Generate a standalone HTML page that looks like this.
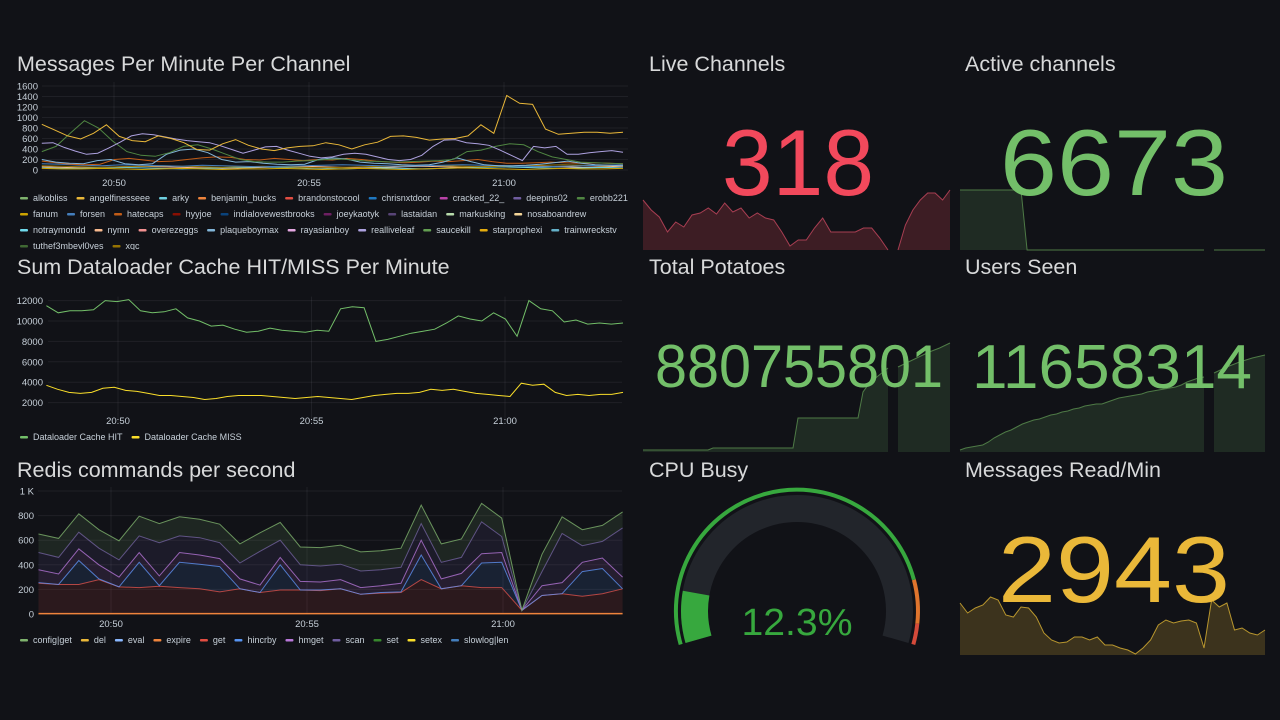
<!DOCTYPE html>
<html><head><meta charset="utf-8">
<style>
html,body{margin:0;padding:0;background:#111217;}
svg{display:block;font-family:"Liberation Sans",sans-serif;}
.title{fill:#d8d9da;font-size:21.5px;}
.tick{fill:#c7d0d9;font-size:9.5px;}
.leg{fill:#c7d0d9;font-size:9px;}
</style></head>
<body>
<svg id="dash" width="1280" height="720" viewBox="0 0 1280 720">
<rect width="1280" height="720" fill="#111217"/>
<defs>
<clipPath id="clipMsg"><rect x="0" y="40" width="640" height="210"/></clipPath>
</defs>
<text class="title" x="17" y="71">Messages Per Minute Per Channel</text>
<text class="title" x="17" y="274">Sum Dataloader Cache HIT/MISS Per Minute</text>
<text class="title" x="17" y="477">Redis commands per second</text>
<text class="title" x="649" y="71">Live Channels</text>
<text class="title" x="965" y="71">Active channels</text>
<text class="title" x="649" y="274">Total Potatoes</text>
<text class="title" x="965" y="274">Users Seen</text>
<text class="title" x="649" y="477">CPU Busy</text>
<text class="title" x="965" y="477">Messages Read/Min</text>
<g id="msgChart" clip-path="url(#clipMsg)"></g>
<g id="dlChart"></g>
<g id="redisChart"></g>
<g id="stats"></g>
</svg>
<script>
// ---------- data ----------
const timeTicks = ["20:50", "20:55", "21:00"];
const timeTickMinutes = [0, 5, 10];
const T0 = -1.85, T1 = 13.05;

const msgNames = ["alkobliss","angelfinesseee","arky","benjamin_bucks","brandonstocool","chrisnxtdoor","cracked_22_","deepins02","erobb221","fanum","forsen","hatecaps","hyyjoe","indialovewestbrooks","joeykaotyk","lastaidan","markusking","nosaboandrew","notraymondd","nymn","overezeggs","plaqueboymax","rayasianboy","realliveleaf","saucekill","starprophexi","trainwreckstv","tuthef3mbevl0ves","xqc"];
const msgColors = ["#7EB26D","#EAB839","#6ED0E0","#EF843C","#E24D42","#1F78C1","#BA43A9","#705DA0","#508642","#CCA300","#447EBC","#C15C17","#890F02","#0A437C","#6D1F62","#584477","#B7DBAB","#F4D598","#70DBED","#F9BA8F","#F29191","#82B5D8","#E5A8E2","#AEA2E0","#629E51","#E5AC0E","#64B0C8","#3F6833","#967302"];
const msgYTicks = [0,200,400,600,800,1000,1200,1400,1600];
const angelfinesseee = [870,760,650,590,700,860,640,560,540,650,600,520,390,380,500,580,470,400,370,420,450,460,520,480,400,480,530,640,650,620,570,590,600,650,860,700,1420,1270,1250,780,680,700,720,720,700,720];
const realliveleaf = [510,520,430,360,300,320,420,530,650,690,670,630,590,560,540,520,460,390,320,380,440,450,380,320,260,230,250,300,320,300,250,200,180,200,280,450,570,580,520,500,470,380,280,180,450,420,450,300,300,330,350,370,340];
const erobb221 = [350,450,700,940,800,550,350,280,260,330,450,480,400,300,200,160,150,150,170,180,200,210,190,170,160,150,160,170,180,200,350,380,450,500,480,350,250,200,150,140,130,120];
const plaqueboymax = [200,150,130,120,180,200,120,100,120,300,380,400,330,200,150,160,130,110,100,110,200,230,210,150,130,120,100,90,100,150,230,160,100,80,80,90,110,140,170,130,100,90,80];
const hatecaps = [170,140,110,100,110,200,220,190,160,170,200,230,250,240,200,190,220,200,180,200,190,220,200,170,150,140,150,170,160,180,200,160,130,130,140,150,140,130,140,130,120];
const forsen = [120,110,90,80,100,90,80,70,90,80,70,60,70,80,90,100,90,80,70,80,90,100,90,80,70,60,70,80,90,100];
const nymn = [60,50,40,50,60,70,60,50,40,30,40,50,60,70,60,50,40,50,60,70,60,50,60,70,80,70,60,50,60,70];
const arky = [40,30,30,40,50,40,30,20,30,40,50,60,50,40,30,20,30,40,30,20,30,40,50,60,50,40,30,40,50,40];
const xqc = [80,70,60,50,60,70,80,70,60,50,60,70,60,50,40,50,60,70,80,90,80,70,60,70,80,90,100,90,80,90];
const fanum = [30,20,20,30,20,10,20,30,20,10,20,20,30,20,10,20,30,20,10,20,30,40,30,20,10,20,30,20,20,30];
const msgSeries = [
  ["nymn", nymn], ["arky", arky], ["fanum", fanum], ["xqc", xqc], ["forsen", forsen],
  ["hatecaps", hatecaps], ["plaqueboymax", plaqueboymax], ["erobb221", erobb221],
  ["realliveleaf", realliveleaf], ["angelfinesseee", angelfinesseee]
];

const dlYTicks = [2000,4000,6000,8000,10000,12000];
const dlHit = [11500,10800,11000,11000,11100,12000,11900,12100,11000,10800,10900,11200,10300,10000,9500,9600,9200,8900,9000,9300,9100,9000,8900,9100,9000,11200,11400,11300,8000,8200,8500,8800,9000,9200,9800,10500,10200,10000,10800,10200,8500,12000,11200,11000,9900,10100,9700,9800,9700,9800];
const dlMiss = [3700,3300,3000,2900,3000,3400,3500,3200,3100,2900,2700,2700,2600,2500,2300,2400,2600,2700,2700,2700,2600,2500,2400,2500,2600,2500,2400,2300,2500,2700,2800,2900,2900,3000,3300,3200,3300,3100,2900,2800,2700,2600,3900,3700,3800,3000,2700,2800,2700,2800,2800,3000];

const redisYTicks = [0,200,400,600,800,1000];
const redisYLabels = ["0","200","400","600","800","1 K"];
const redisGet = [250,240,240,280,220,215,225,215,205,180,205,175,195,195,190,205,160,170,175,280,205,230,215,215,30,150,165,145,165,205];
const redisHincrby = [5,0,195,5,0,205,5,205,200,205,0,0,205,0,5,0,0,5,5,200,0,0,200,205,0,0,0,200,205,0];
const redisHmget = [105,85,95,115,80,80,80,80,75,65,80,60,60,70,65,75,55,55,70,120,80,100,75,80,0,80,90,75,85,95];
const redisScan = [140,135,135,135,140,135,270,135,140,130,130,275,140,135,130,125,135,130,130,135,135,130,260,130,0,115,400,135,135,400];
const redisConfigGet = [150,155,150,150,155,160,155,155,150,150,155,150,145,145,150,155,155,155,155,150,150,150,150,150,0,140,135,130,130,130];
const redisExpire = [3,3,3,3,3,3,3,3,3,3,3,3,3,3,3,3,3,3,3,3,3,3,3,3,3,3,3,3,3,3];
const redisNames = ["config|get","del","eval","expire","get","hincrby","hmget","scan","set","setex","slowlog|len"];
const redisColors = ["#7EB26D","#EAB839","#8AB8FF","#EF843C","#E24D42","#5794F2","#B877D9","#705DA0","#37872D","#FADE2A","#447EBC"];

const liveA = [50,40,33,18,28,23,35,37,42,36,47,38,42,32,37,32,30,18,4,10,10,22,32,18,18,18,18,22,22,12,0];
const liveB = [0,25,40,50,57,57,50,60];
const activeA = [60,60,60,60,60,60,60,60,60,60,60,0,0,0,0,0,0,0,0,0,0,0,0,0,0,0,0,0,0,0,0,0,0,0,0,0,0,0,0,0,0];
const activeB = [0,0,0,0,0];
const potatoA = [2,2,2,2,2,2,2,2,2,2,2,2,2,2,4,4,4,4,4,4,4,4,4,4,4,4,4,4,4,4,4,34,34,34,34,34,34,34,34,34,34,34,34,34,60,67,72,76,80,84];
const potatoB = [85,90,95,100,104,109];
const usersA = [2,4,5,6,7,10,14,17,20,22,25,28,30,32,33,35,37,38,40,41,43,44,46,47,48,48,50,52,54,55,56,57,58,60,61,62,63,64,65,67,70,72,74,75];
const usersB = [79,85,90,94,97];
const readVals = [52,42,47,50,58,55,40,38,48,47,38,22,15,12,13,18,18,15,18,10,10,7,5,1,7,15,30,35,32,34,35,32,7,55,48,52,25,27,22,20,25];
const cpuValue = 12.3;
const cpuThresholds = [0, 85.4, 95.3];
const cpuThresholdColors = ["#37A83E","#E0752D","#D44A3A"];

// ---------- helpers ----------
const NS = "http://www.w3.org/2000/svg";
function mk(tag, attrs, parent) {
  const el = document.createElementNS(NS, tag);
  for (const k in attrs) el.setAttribute(k, attrs[k]);
  if (parent) parent.appendChild(el);
  return el;
}
function timeAxis(x20_50, pxPerMin) { return t => x20_50 + t * pxPerMin; }
function linAxis(y0, pxPerUnit) { return v => y0 - v * pxPerUnit; }
function seriesPts(vals, xs, ys) {
  return vals.map((v, i) => [xs(T0 + (T1 - T0) * i / (vals.length - 1)), ys(v)]);
}
function ptsStr(p) { return p.map(q => q[0].toFixed(1) + "," + q[1].toFixed(1)).join(" "); }

function drawAxes(g, xs, ys, yTicks, yLabels, left, right, labelX, tickY) {
  yTicks.forEach((v, i) => {
    const gl = mk("line", {x1:left, x2:right, y1:ys(v), y2:ys(v), stroke:"rgba(204,204,220,0.08)", "stroke-width":1}, g);
    
    
    const t = mk("text", {x:labelX, y:ys(v) + 3.5, "text-anchor":"end", class:"tick"}, g);
    t.textContent = yLabels ? yLabels[i] : String(v);
    
    
  });
  timeTickMinutes.forEach((m, i) => {
    const gl = mk("line", {x1:xs(m), x2:xs(m), y1:ys(yTicks[yTicks.length-1]) - 4, y2:ys(0), stroke:"rgba(204,204,220,0.08)", "stroke-width":1}, g);
    
    
    const t = mk("text", {x:xs(m), y:tickY, "text-anchor":"middle", class:"tick"}, g);
    t.textContent = timeTicks[i];
    
    
  });
}
function drawLegend(g, names, colors, x0, y0, maxX, rowH) {
  let x = x0, y = y0;
  names.forEach((n, i) => {
    const item = mk("g", {}, g);
    
    
    const sw = mk("rect", {x:x, y:y - 4, width:8, height:2.5, rx:1, fill:colors[i]}, item);
    
    
    const t = mk("text", {x:x + 13, y:y, class:"leg"}, item);
    t.textContent = n;
    
    
    let w = 40;
    try { w = t.getComputedTextLength(); } catch (e) {}
    let nx = x + 13 + w + 9;
    if (x + 13 + w > maxX && x > x0) {
      x = x0; y += rowH;
      sw.setAttribute("x", x); sw.setAttribute("y", y - 4);
      t.setAttribute("x", x + 13); t.setAttribute("y", y);
      nx = x + 13 + w + 9;
    }
    x = nx;
  });
}

// ---------- messages chart ----------
(function(){
  const g = document.getElementById("msgChart");
  const xs = timeAxis(114, 39), ys = linAxis(170, 84/1600);
  drawAxes(g, xs, ys, msgYTicks, null, 42, 628, 38, 186);
  msgSeries.forEach(([name, vals]) => {
    const c = msgColors[msgNames.indexOf(name)];
    const p = mk("polyline", {points:ptsStr(seriesPts(vals, xs, ys)), fill:"none", stroke:c, "stroke-width":1}, g);
    
    
  });
  drawLegend(g, msgNames, msgColors, 20, 201, 630, 16);
})();

// ---------- dataloader chart ----------
(function(){
  const g = document.getElementById("dlChart");
  const xs = timeAxis(118, 38.7), ys = linAxis(423, 20.4/2000);
  drawAxes(g, xs, ys, dlYTicks, null, 48, 622, 43, 424);
  [[dlMiss, "#FADE2A", "miss"], [dlHit, "#73BF69", "hit"]].forEach(([vals, c, n]) => {
    const pts = seriesPts(vals, xs, ys);
    const p = mk("polyline", {points:ptsStr(pts), fill:"none", stroke:c, "stroke-width":1}, g);
    
    
  });
  drawLegend(g, ["Dataloader Cache HIT","Dataloader Cache MISS"], ["#73BF69","#FADE2A"], 20, 440, 628, 16);
})();

// ---------- redis chart ----------
(function(){
  const g = document.getElementById("redisChart");
  const xs = timeAxis(111, 39.2), ys = linAxis(614, 123/1000);
  drawAxes(g, xs, ys, redisYTicks, redisYLabels, 38, 622, 34, 627);
  const layers = [["get", redisGet], ["hincrby", redisHincrby], ["hmget", redisHmget], ["scan", redisScan], ["config|get", redisConfigGet]];
  let base = redisGet.map(() => 0);
  layers.forEach(([name, vals]) => {
    const c = redisColors[redisNames.indexOf(name)];
    const top = vals.map((v, i) => base[i] + v);
    const tp = seriesPts(top, xs, ys), bp = seriesPts(base, xs, ys).reverse();
    const a = mk("polygon", {points:ptsStr(tp) + " " + ptsStr(bp), fill:c, "fill-opacity":0.13}, g);
    
    
    const p = mk("polyline", {points:ptsStr(tp), fill:"none", stroke:c, "stroke-width":1, "stroke-opacity":0.8}, g);
    
    
    base = top;
  });
  const e = mk("polyline", {points:ptsStr(seriesPts(redisExpire, xs, ys)), fill:"none", stroke:"#EF843C", "stroke-width":1.5}, g);
  
  
  drawLegend(g, redisNames, redisColors, 20, 643, 628, 16);
})();

// ---------- stat panels ----------
const stats = document.getElementById("stats");
function spark(vals, x0, x1, bottom, scale, stroke, fill, name) {
  const pts = vals.map((v, i) => [x0 + (x1 - x0) * i / (vals.length - 1), bottom - v * scale]);
  const a = mk("polygon", {points:ptsStr(pts) + ` ${x1},${bottom} ${x0},${bottom}`, fill:fill}, stats);
  
  
  const p = mk("polyline", {points:ptsStr(pts), fill:"none", stroke:stroke, "stroke-width":1}, stats);
  
  
}
function bigNum(txt, cx, baseline, size, width, color, name) {
  const t = mk("text", {x:cx, y:baseline, "text-anchor":"middle", "font-size":size, fill:color, textLength:width, lengthAdjust:"spacingAndGlyphs"}, stats);
  t.textContent = txt;
  
  
}
spark(liveA, 643, 888, 250, 1, "#A83E52", "rgba(242,73,92,0.2)", "live-channels");
spark(liveB, 898, 950, 250, 1, "#A83E52", "rgba(242,73,92,0.2)", "live-channels-recent");
bigNum("318", 798, 195, 94, 152, "#F2495C", "live-channels-value");
spark(activeA, 960, 1204, 250, 1, "#4E7A46", "rgba(115,191,105,0.15)", "active-channels");
spark(activeB, 1214, 1265, 250, 1, "#4E7A46", "rgba(115,191,105,0.15)", "active-channels-recent");
bigNum("6673", 1114, 195, 94, 228, "#73BF69", "active-channels-value");
spark(potatoA, 643, 888, 452, 1, "#4E7A46", "rgba(115,191,105,0.15)", "total-potatoes");
spark(potatoB, 898, 950, 452, 1, "#4E7A46", "rgba(115,191,105,0.15)", "total-potatoes-recent");
bigNum("880755801", 799, 387, 60, 288, "#73BF69", "total-potatoes-value");
spark(usersA, 960, 1204, 452, 1, "#4E7A46", "rgba(115,191,105,0.15)", "users-seen");
spark(usersB, 1214, 1265, 452, 1, "#4E7A46", "rgba(115,191,105,0.15)", "users-seen-recent");
bigNum("11658314", 1112, 388, 62, 280, "#73BF69", "users-seen-value");
spark(readVals, 960, 1265, 655, 1, "#B8962E", "rgba(234,184,57,0.2)", "messages-read");
bigNum("2943", 1114, 602, 94, 232, "#EAB839", "messages-read-value");

// CPU gauge
(function(){
  const cx = 797, cy = 611, A0 = 196, SW = 212;
  const ang = pct => A0 - SW * pct / 100;
  function arc(a1, a2, r) {
    const p1 = [cx + r * Math.cos(a1 * Math.PI/180), cy - r * Math.sin(a1 * Math.PI/180)];
    const p2 = [cx + r * Math.cos(a2 * Math.PI/180), cy - r * Math.sin(a2 * Math.PI/180)];
    const large = (a1 - a2) > 180 ? 1 : 0;
    return `M${p1[0].toFixed(1)},${p1[1].toFixed(1)} A${r},${r} 0 ${large} 1 ${p2[0].toFixed(1)},${p2[1].toFixed(1)}`;
  }
  const bg = mk("path", {d:arc(ang(0), ang(100), 102.5), fill:"none", stroke:"#22252B", "stroke-width":27}, stats);
  
  
  const fillArc = mk("path", {d:arc(ang(0), ang(cpuValue), 102.5), fill:"none", stroke:"#37A83E", "stroke-width":27}, stats);
  
  
  cpuThresholds.forEach((th, i) => {
    const end = i + 1 < cpuThresholds.length ? cpuThresholds[i+1] : 100;
    const t = mk("path", {d:arc(ang(th), ang(end), 121), fill:"none", stroke:cpuThresholdColors[i], "stroke-width":4}, stats);
    
    
  });
  const txt = mk("text", {x:cx, y:635, "text-anchor":"middle", "font-size":38, fill:"#37A83E", textLength:111, lengthAdjust:"spacingAndGlyphs"}, stats);
  txt.textContent = cpuValue.toFixed(1) + "%";
  
  
})();
</script>
</body></html>
